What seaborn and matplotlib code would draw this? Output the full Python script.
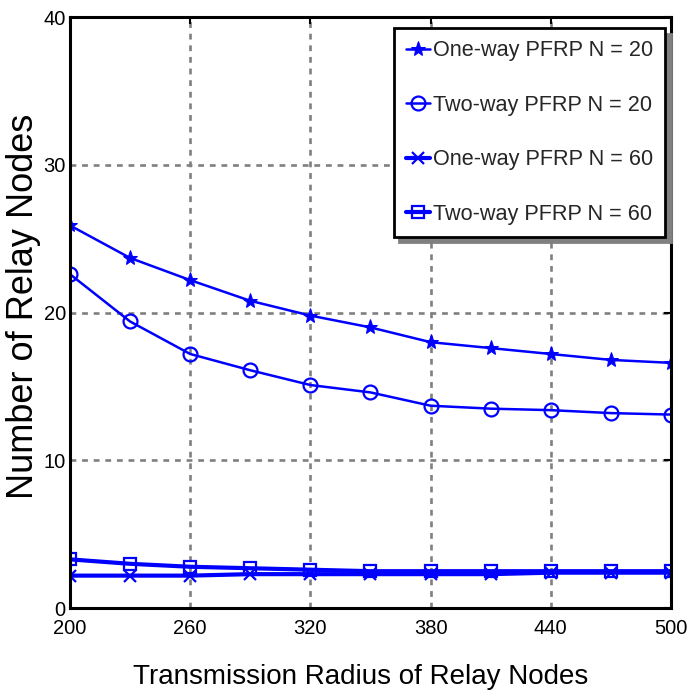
import matplotlib
matplotlib.use("Agg")
import matplotlib.pyplot as plt
import seaborn as sns
import pandas as pd

radius = [200, 230, 260, 290, 320, 350, 380, 410, 440, 470, 500]
one_way_20 = [25.9, 23.7, 22.2, 20.8, 19.8, 19.0, 18.0, 17.6, 17.2, 16.8, 16.6]
two_way_20 = [22.6, 19.4, 17.2, 16.1, 15.1, 14.6, 13.7, 13.5, 13.4, 13.2, 13.1]
one_way_60 = [2.2, 2.2, 2.2, 2.3, 2.3, 2.3, 2.3, 2.3, 2.4, 2.4, 2.4]
two_way_60 = [3.3, 3.0, 2.8, 2.7, 2.6, 2.5, 2.5, 2.5, 2.5, 2.5, 2.5]
labels = ["One-way PFRP N = 20", "Two-way PFRP N = 20",
          "One-way PFRP N = 60", "Two-way PFRP N = 60"]
x_ticks = [200, 260, 320, 380, 440, 500]
y_ticks = [0, 10, 20, 30, 40]

sns.set_theme(style="white")
fam = ["Liberation Sans", "DejaVu Sans"]
plt.rcParams["font.family"] = fam

fig = plt.figure(figsize=(6.91, 6.99), dpi=100)
ax = fig.add_axes([0.1013, 0.130, 0.8697, 0.8455])

series = [one_way_20, two_way_20, one_way_60, two_way_60]
styles = [
    dict(marker="*", markersize=11, markerfacecolor="blue", markeredgecolor="blue", lw=1.8),
    dict(marker="o", markersize=10, markerfacecolor="none", markeredgecolor="blue", markeredgewidth=1.6, lw=1.8),
    dict(marker="x", markersize=8, markeredgecolor="blue", markeredgewidth=1.6, lw=3.0),
    dict(marker="s", markersize=8, markerfacecolor="none", markeredgecolor="blue", markeredgewidth=1.6, lw=3.0),
]
for vals, lab, st in zip(series, labels, styles):
    df = pd.DataFrame({"radius": radius, "nodes": vals})
    sns.lineplot(data=df, x="radius", y="nodes", ax=ax, color="blue", label=lab, **st)

ax.set_xlim(200, 500)
ax.set_ylim(0, 40)
ax.set_xticks(x_ticks)
ax.set_yticks(y_ticks)
ax.tick_params(axis="both", direction="in", length=5, width=1.5, colors="black",
               labelsize=14.5, top=True, right=True)
ax.tick_params(axis="x", pad=8)
ax.tick_params(axis="y", pad=3)

ax.grid(True, color="#808080", linestyle=(0, (2.2, 2.2)), linewidth=1.9)
for sp in ax.spines.values():
    sp.set_color("black")
    sp.set_linewidth(2.2)

ax.set_xlabel("Transmission Radius of Relay Nodes", fontsize=20, color="black")
ax.xaxis.set_label_coords(0.484, -0.094)
ax.set_ylabel("Number of Relay Nodes", fontsize=26, color="black")
ax.yaxis.set_label_coords(-0.048, 0.51)

leg = ax.legend(loc="upper right", bbox_to_anchor=(0.990, 0.981), fontsize=15.6,
                frameon=True, fancybox=False, edgecolor="black",
                shadow={"ox": 4, "oy": -4, "color": "0.5", "alpha": 1},
                handlelength=1.1, handletextpad=0.15, labelspacing=1.55,
                borderpad=0.55, borderaxespad=0.0)
leg.get_frame().set_linewidth(2.0)
leg.get_frame().set_facecolor("white")
leg.get_frame().set_alpha(1)

fig.savefig("out.png", dpi=100)
